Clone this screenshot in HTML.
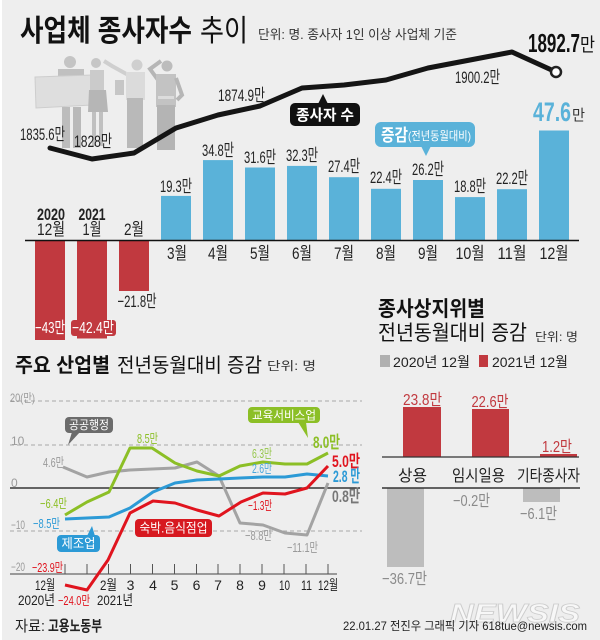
<!DOCTYPE html>
<html><head><meta charset="utf-8"><style>
html,body{margin:0;padding:0;background:#eeeeee;}
svg{display:block;}
text{font-family:'Liberation Sans','Noto Sans CJK KR',sans-serif;}
</style></head><body>
<svg width="600" height="640" viewBox="0 0 600 640" xmlns="http://www.w3.org/2000/svg">
<rect width="600" height="640" fill="#eeeeee"/>
<rect x="0" y="0" width="2" height="640" fill="#ffffff"/>

<!-- Title -->
<text x="20" y="41" font-size="30" font-weight="bold" fill="#111" textLength="172" lengthAdjust="spacingAndGlyphs">사업체 종사자수</text>
<text x="200" y="41" font-size="30" fill="#111" textLength="48" lengthAdjust="spacingAndGlyphs">추이</text>
<text x="258" y="39" font-size="13" fill="#333" textLength="199" lengthAdjust="spacingAndGlyphs">단위: 명. 종사자 1인 이상 사업체 기준</text>

<!-- Illustration -->
<g opacity="0.85">
  <circle cx="70" cy="62" r="6" fill="#bdbdbd"/>
  <rect x="58" y="69" width="26" height="10" fill="#b8b8b8"/>
  <polygon points="35,77 92,75 92,105 36,108" fill="#dcdcdc" stroke="#c8c8c8" stroke-width="1"/>
  <rect x="62" y="107" width="8" height="41" fill="#b4b4b4"/>
  <rect x="73" y="107" width="8" height="41" fill="#b0b0b0"/>
  <circle cx="96" cy="63" r="5" fill="#c0c0c0"/>
  <rect x="90" y="70" width="14" height="22" fill="#c6c6c6"/>
  <polygon points="89,90 106,90 108,112 88,112" fill="#adadad"/>
  <rect x="92" y="112" width="4" height="34" fill="#b8b8b8"/>
  <rect x="99" y="112" width="4" height="34" fill="#b8b8b8"/>
  <circle cx="137" cy="65" r="5.5" fill="#cacaca"/>
  <polyline points="130,76 112,66 104,61" fill="none" stroke="#cacaca" stroke-width="4"/>
  <rect x="126" y="72" width="19" height="28" fill="#d8d8d8"/>
  <rect x="115" y="80" width="9" height="15" fill="#c0c0c0"/>
  <rect x="127" y="98" width="16" height="50" fill="#b0b0b0"/>
  <circle cx="167" cy="66" r="5.5" fill="#b4b4b4"/>
  <polyline points="158,80 150,69 161,61" fill="none" stroke="#adadad" stroke-width="4"/>
  <rect x="156" y="74" width="20" height="33" fill="#bcbcbc"/>
  <rect x="158" y="96" width="16" height="3" fill="#dadada"/>
  <polyline points="176,78 182,95 177,100" fill="none" stroke="#adadad" stroke-width="4"/>
  <rect x="157" y="105" width="18" height="45" fill="#ababab"/>
</g>

<!-- Top bars -->
<g fill="#c1393f">
  <rect x="35" y="240.5" width="30" height="99.5"/>
  <rect x="77" y="240.5" width="30" height="98"/>
  <rect x="119" y="240.5" width="30" height="50.5"/>
  <rect x="71" y="320" width="45" height="16" rx="3"/>
</g>
<g fill="#5ab2d9">
  <rect x="161" y="195.9" width="30" height="44.6"/>
  <rect x="203" y="160.1" width="30" height="80.4"/>
  <rect x="245" y="167.5" width="30" height="73"/>
  <rect x="287" y="165.9" width="30" height="74.6"/>
  <rect x="329" y="177.2" width="30" height="63.3"/>
  <rect x="371" y="188.8" width="30" height="51.7"/>
  <rect x="413" y="180" width="30" height="60.5"/>
  <rect x="455" y="197.1" width="30" height="43.4"/>
  <rect x="497" y="189.2" width="30" height="51.3"/>
  <rect x="539" y="130.5" width="30" height="110"/>
</g>
<line x1="25" y1="240.5" x2="579" y2="240.5" stroke="#111" stroke-width="1.5"/>

<!-- Top line -->
<polyline points="50,148 92,159 134,153 176,128 218,115 260,106 302,88 344,85 386,80 428,68 470,60 512,52 556,72" fill="none" stroke="#151515" stroke-width="5" stroke-linejoin="round" stroke-linecap="round"/>
<circle cx="556" cy="72" r="5" fill="#fff" stroke="#222" stroke-width="2.5"/>

<g font-size="17" fill="#222">
  <text x="20" y="140" textLength="45" lengthAdjust="spacingAndGlyphs">1835.6만</text>
  <text x="74" y="147" textLength="38" lengthAdjust="spacingAndGlyphs">1828만</text>
  <text x="218" y="101" textLength="47" lengthAdjust="spacingAndGlyphs">1874.9만</text>
  <text x="455" y="83" textLength="45" lengthAdjust="spacingAndGlyphs">1900.2만</text>
</g>
<text x="528" y="52" font-size="26" font-weight="bold" fill="#111" textLength="52" lengthAdjust="spacingAndGlyphs">1892.7</text>
<text x="580" y="51" font-size="19" fill="#111" textLength="15" lengthAdjust="spacingAndGlyphs">만</text>

<!-- 종사자 수 box -->
<rect x="290" y="103" width="70" height="23" rx="5" fill="#111"/>
<polygon points="318,104 328,104 323,94" fill="#111"/>
<text x="325" y="120" font-size="15" font-weight="bold" fill="#fff" text-anchor="middle" textLength="58" lengthAdjust="spacingAndGlyphs">종사자 수</text>

<!-- 증감 box -->
<rect x="375" y="122" width="100" height="25" rx="6" fill="#5ab2d9"/>
<polygon points="421,146 431,146 426,156" fill="#5ab2d9"/>
<text x="381" y="141" font-size="17" font-weight="bold" fill="#fff" textLength="27" lengthAdjust="spacingAndGlyphs">증감</text>
<text x="408" y="140" font-size="12" fill="#fff" textLength="63" lengthAdjust="spacingAndGlyphs">(전년동월대비)</text>

<!-- 47.6만 -->
<text x="533" y="121" font-size="27" font-weight="bold" fill="#5ab2d9" textLength="38" lengthAdjust="spacingAndGlyphs">47.6</text>
<text x="572" y="120" font-size="15" fill="#333" textLength="13" lengthAdjust="spacingAndGlyphs">만</text>

<!-- bar value labels -->
<g font-size="17" fill="#222" text-anchor="middle">
  <text x="176" y="192" textLength="32" lengthAdjust="spacingAndGlyphs">19.3만</text>
  <text x="218" y="156" textLength="32" lengthAdjust="spacingAndGlyphs">34.8만</text>
  <text x="260" y="163" textLength="32" lengthAdjust="spacingAndGlyphs">31.6만</text>
  <text x="302" y="161" textLength="32" lengthAdjust="spacingAndGlyphs">32.3만</text>
  <text x="344" y="172" textLength="32" lengthAdjust="spacingAndGlyphs">27.4만</text>
  <text x="386" y="183" textLength="32" lengthAdjust="spacingAndGlyphs">22.4만</text>
  <text x="428" y="175" textLength="32" lengthAdjust="spacingAndGlyphs">26.2만</text>
  <text x="470" y="192" textLength="32" lengthAdjust="spacingAndGlyphs">18.8만</text>
  <text x="512" y="184" textLength="32" lengthAdjust="spacingAndGlyphs">22.2만</text>
  <text x="137" y="307" textLength="39" lengthAdjust="spacingAndGlyphs">−21.8만</text>
</g>
<g font-size="16" fill="#fff" text-anchor="middle">
  <text x="50" y="333" textLength="30" lengthAdjust="spacingAndGlyphs">−43만</text>
  <text x="93" y="333" textLength="42" lengthAdjust="spacingAndGlyphs">−42.4만</text>
</g>
<!-- month labels -->
<g font-size="17" fill="#222" text-anchor="middle">
  <text x="51" y="220" font-weight="bold" textLength="28" lengthAdjust="spacingAndGlyphs">2020</text>
  <text x="51" y="235" textLength="28" lengthAdjust="spacingAndGlyphs">12월</text>
  <text x="92" y="220" font-weight="bold" textLength="27" lengthAdjust="spacingAndGlyphs">2021</text>
  <text x="92" y="235" textLength="19" lengthAdjust="spacingAndGlyphs">1월</text>
  <text x="134" y="235" textLength="20" lengthAdjust="spacingAndGlyphs">2월</text>
  <text x="177" y="259" textLength="20" lengthAdjust="spacingAndGlyphs">3월</text>
  <text x="218" y="259" textLength="20" lengthAdjust="spacingAndGlyphs">4월</text>
  <text x="260" y="259" textLength="20" lengthAdjust="spacingAndGlyphs">5월</text>
  <text x="302" y="259" textLength="20" lengthAdjust="spacingAndGlyphs">6월</text>
  <text x="344" y="259" textLength="20" lengthAdjust="spacingAndGlyphs">7월</text>
  <text x="386" y="259" textLength="20" lengthAdjust="spacingAndGlyphs">8월</text>
  <text x="428" y="259" textLength="20" lengthAdjust="spacingAndGlyphs">9월</text>
  <text x="470" y="259" textLength="29" lengthAdjust="spacingAndGlyphs">10월</text>
  <text x="512" y="259" textLength="29" lengthAdjust="spacingAndGlyphs">11월</text>
  <text x="554" y="259" textLength="29" lengthAdjust="spacingAndGlyphs">12월</text>
</g>

<!-- Section 2 title -->
<text x="15" y="372" font-size="20" font-weight="bold" fill="#111" textLength="95" lengthAdjust="spacingAndGlyphs">주요 산업별</text>
<text x="117" y="372" font-size="20" fill="#111" textLength="145" lengthAdjust="spacingAndGlyphs">전년동월대비 증감</text>
<text x="267" y="370" font-size="12" fill="#333" textLength="49" lengthAdjust="spacingAndGlyphs">단위: 명</text>

<!-- grid -->
<g stroke="#a8a8a8" stroke-width="1" stroke-dasharray="4,3">
  <line x1="10" y1="401" x2="362" y2="401"/>
  <line x1="10" y1="445" x2="362" y2="445"/>
  <line x1="10" y1="531" x2="362" y2="531"/>
</g>
<line x1="10" y1="488" x2="360" y2="488" stroke="#111" stroke-width="1.2"/>
<line x1="10" y1="574" x2="337" y2="574" stroke="#444" stroke-width="1"/>
<g stroke="#555" stroke-width="1">
  <line x1="65" y1="564" x2="65" y2="574"/><line x1="87" y1="564" x2="87" y2="574"/>
  <line x1="108.5" y1="564" x2="108.5" y2="574"/><line x1="130.5" y1="564" x2="130.5" y2="574"/>
  <line x1="152.5" y1="564" x2="152.5" y2="574"/><line x1="174.5" y1="564" x2="174.5" y2="574"/>
  <line x1="196.5" y1="564" x2="196.5" y2="574"/><line x1="218" y1="564" x2="218" y2="574"/>
  <line x1="240" y1="564" x2="240" y2="574"/><line x1="262" y1="564" x2="262" y2="574"/>
  <line x1="284" y1="564" x2="284" y2="574"/><line x1="306" y1="564" x2="306" y2="574"/>
  <line x1="328" y1="564" x2="328" y2="574"/>
</g>
<g font-size="12" fill="#9a9a9a">
  <text x="10" y="402" textLength="25" lengthAdjust="spacingAndGlyphs">20(만)</text>
  <text x="11" y="445">10</text>
  <text x="11" y="487">0</text>
  <text x="11" y="529" textLength="14" lengthAdjust="spacingAndGlyphs">−10</text>
  <text x="11" y="571" textLength="14" lengthAdjust="spacingAndGlyphs">−20</text>
</g>

<!-- series -->
<g fill="none" stroke-width="3" stroke-linejoin="round">
  <polyline stroke="#a3a3a3" points="63,467 87,477 109,472 130,470 152,469 175,468 197,462 219,476 240,523 263,525 285,533 307,535 328,483"/>
  <polyline stroke="#8cbf26" points="65,515 87,502 109,492 130,448 152,448 175,463 197,471 219,476 240,466 263,462 285,464 307,464 328,453"/>
  <polyline stroke="#2c9ad6" points="65,519 87,518 109,517 130,508 153,492 175,483 197,480 219,479 240,478 263,477 285,477 307,474 328,476"/>
  <polyline stroke="#e0141e" points="65,585 87,590 108,560 130,513 153,501 175,503 197,510 219,516 241,502 263,493 285,494 307,488 328,466"/>
</g>

<!-- series labels -->
<g font-size="13">
  <text x="43" y="467" fill="#999" textLength="21" lengthAdjust="spacingAndGlyphs">4.6만</text>
  <text x="137" y="443" fill="#8cbf26" textLength="21" lengthAdjust="spacingAndGlyphs">8.5만</text>
  <text x="252" y="458" fill="#95c64a" textLength="20" lengthAdjust="spacingAndGlyphs">6.3만</text>
  <text x="252" y="473" fill="#4aa6dc" textLength="20" lengthAdjust="spacingAndGlyphs">2.6만</text>
  <text x="40" y="508" fill="#8cbf26" textLength="27" lengthAdjust="spacingAndGlyphs">−6.4만</text>
  <text x="33" y="528" fill="#2c9ad6" textLength="27" lengthAdjust="spacingAndGlyphs">−8.5만</text>
  <text x="248" y="510" fill="#e0141e" textLength="24" lengthAdjust="spacingAndGlyphs">−1.3만</text>
  <text x="245" y="540" fill="#999" textLength="27" lengthAdjust="spacingAndGlyphs">−8.8만</text>
  <text x="287" y="552" fill="#999" textLength="31" lengthAdjust="spacingAndGlyphs">−11.1만</text>
  <text x="32" y="572" fill="#e0141e" textLength="31" lengthAdjust="spacingAndGlyphs">−23.9만</text>
  <text x="58" y="605" fill="#e0141e" textLength="32" lengthAdjust="spacingAndGlyphs">−24.0만</text>
</g>
<g font-size="17" font-weight="bold">
  <text x="313" y="448" fill="#8cbf26" textLength="27" lengthAdjust="spacingAndGlyphs">8.0만</text>
  <text x="332" y="467" fill="#e0141e" textLength="28" lengthAdjust="spacingAndGlyphs">5.0만</text>
  <text x="333" y="482" fill="#2c9ad6" textLength="27" lengthAdjust="spacingAndGlyphs">2.8 만</text>
  <text x="332" y="502" fill="#777" textLength="28" lengthAdjust="spacingAndGlyphs">0.8만</text>
</g>

<!-- callout boxes -->
<rect x="65" y="417" width="48" height="16" rx="4" fill="#6b6b6b"/>
<polygon points="72,432 80,432 68,445" fill="#6b6b6b"/>
<text x="89" y="429" font-size="12" fill="#fff" text-anchor="middle" textLength="40" lengthAdjust="spacingAndGlyphs">공공행정</text>

<rect x="248" y="407" width="72" height="16" rx="4" fill="#8cbf26"/>
<polygon points="298,422 306,422 308,438" fill="#8cbf26"/>
<text x="284" y="419.5" font-size="12" fill="#fff" text-anchor="middle" textLength="64" lengthAdjust="spacingAndGlyphs">교육서비스업</text>

<rect x="57" y="535" width="43" height="17" rx="4" fill="#2c9ad6"/>
<polygon points="87,536 95,536 92,526" fill="#2c9ad6"/>
<text x="78.5" y="548" font-size="13" fill="#fff" text-anchor="middle" textLength="34" lengthAdjust="spacingAndGlyphs">제조업</text>

<rect x="135" y="519" width="77" height="18" rx="4" fill="#d71920"/>
<text x="173.5" y="532.5" font-size="13" fill="#fff" text-anchor="middle" textLength="68" lengthAdjust="spacingAndGlyphs">숙박.음식점업</text>

<!-- x labels -->
<g font-size="14" fill="#222" text-anchor="middle">
  <text x="45" y="590" textLength="20" lengthAdjust="spacingAndGlyphs">12월</text>
  <text x="108.5" y="590" textLength="17" lengthAdjust="spacingAndGlyphs">2월</text>
  <text x="130.5" y="590">3</text>
  <text x="153" y="590">4</text>
  <text x="174.5" y="590">5</text>
  <text x="196.5" y="590">6</text>
  <text x="218" y="590">7</text>
  <text x="240" y="590">8</text>
  <text x="262" y="590">9</text>
  <text x="284.5" y="590" textLength="11" lengthAdjust="spacingAndGlyphs">10</text>
  <text x="306.5" y="590" textLength="11" lengthAdjust="spacingAndGlyphs">11</text>
  <text x="328" y="590" textLength="20" lengthAdjust="spacingAndGlyphs">12월</text>
  <text x="36.5" y="605" textLength="37" lengthAdjust="spacingAndGlyphs">2020년</text>
  <text x="115" y="605" textLength="36" lengthAdjust="spacingAndGlyphs">2021년</text>
</g>

<text x="15" y="631" font-size="15" fill="#222" textLength="30" lengthAdjust="spacingAndGlyphs">자료:</text>
<text x="48" y="631" font-size="15" font-weight="bold" fill="#222" textLength="54" lengthAdjust="spacingAndGlyphs">고용노동부</text>

<!-- Right section -->
<text x="378" y="316" font-size="21" font-weight="bold" fill="#111" textLength="107" lengthAdjust="spacingAndGlyphs">종사상지위별</text>
<text x="378" y="340" font-size="21" fill="#111" textLength="149" lengthAdjust="spacingAndGlyphs">전년동월대비 증감</text>
<text x="535" y="341" font-size="12" fill="#333" textLength="43" lengthAdjust="spacingAndGlyphs">단위: 명</text>

<rect x="380" y="355" width="10" height="12" fill="#b0b0b0"/>
<text x="393" y="367" font-size="14" fill="#222" textLength="77" lengthAdjust="spacingAndGlyphs">2020년 12월</text>
<rect x="479" y="355" width="9" height="12" fill="#c1393f"/>
<text x="492" y="367" font-size="14" fill="#222" textLength="76" lengthAdjust="spacingAndGlyphs">2021년 12월</text>

<g fill="#c1393f">
  <rect x="403" y="407" width="38" height="50"/>
  <rect x="472" y="409" width="37" height="48"/>
  <rect x="540" y="454" width="37" height="3"/>
</g>
<line x1="382" y1="457" x2="579" y2="457" stroke="#333" stroke-width="1.2"/>
<g font-size="16" fill="#c1393f" text-anchor="middle">
  <text x="422.5" y="405" textLength="39" lengthAdjust="spacingAndGlyphs">23.8만</text>
  <text x="490" y="407" textLength="37" lengthAdjust="spacingAndGlyphs">22.6만</text>
  <text x="557" y="452" textLength="30" lengthAdjust="spacingAndGlyphs">1.2만</text>
</g>
<g font-size="16" fill="#222">
  <text x="398" y="481" textLength="29" lengthAdjust="spacingAndGlyphs">상용</text>
  <text x="452" y="481" textLength="53" lengthAdjust="spacingAndGlyphs">임시일용</text>
  <text x="517" y="481" textLength="63" lengthAdjust="spacingAndGlyphs">기타종사자</text>
</g>
<g fill="#bdbdbd">
  <rect x="387" y="488" width="37" height="79"/>
  <rect x="455" y="488" width="37" height="0.6"/>
  <rect x="523" y="488" width="37" height="14"/>
</g>
<line x1="382" y1="488" x2="580" y2="488" stroke="#333" stroke-width="1.4"/>
<g font-size="16" fill="#8a8a8a">
  <text x="382" y="584" textLength="45" lengthAdjust="spacingAndGlyphs">−36.7만</text>
  <text x="453" y="506" textLength="37" lengthAdjust="spacingAndGlyphs">−0.2만</text>
  <text x="520" y="519" textLength="37" lengthAdjust="spacingAndGlyphs">−6.1만</text>
</g>

<!-- watermark -->
<text x="450" y="622" font-size="26" font-weight="bold" font-style="italic" fill="#f7f7f7" stroke="#cccccc" stroke-width="0.8" textLength="130" lengthAdjust="spacingAndGlyphs">NEWSIS</text>

<text x="343" y="630" font-size="12" fill="#222" textLength="244" lengthAdjust="spacingAndGlyphs">22.01.27 전진우 그래픽 기자 618tue@newsis.com</text>
</svg>
</body></html>
